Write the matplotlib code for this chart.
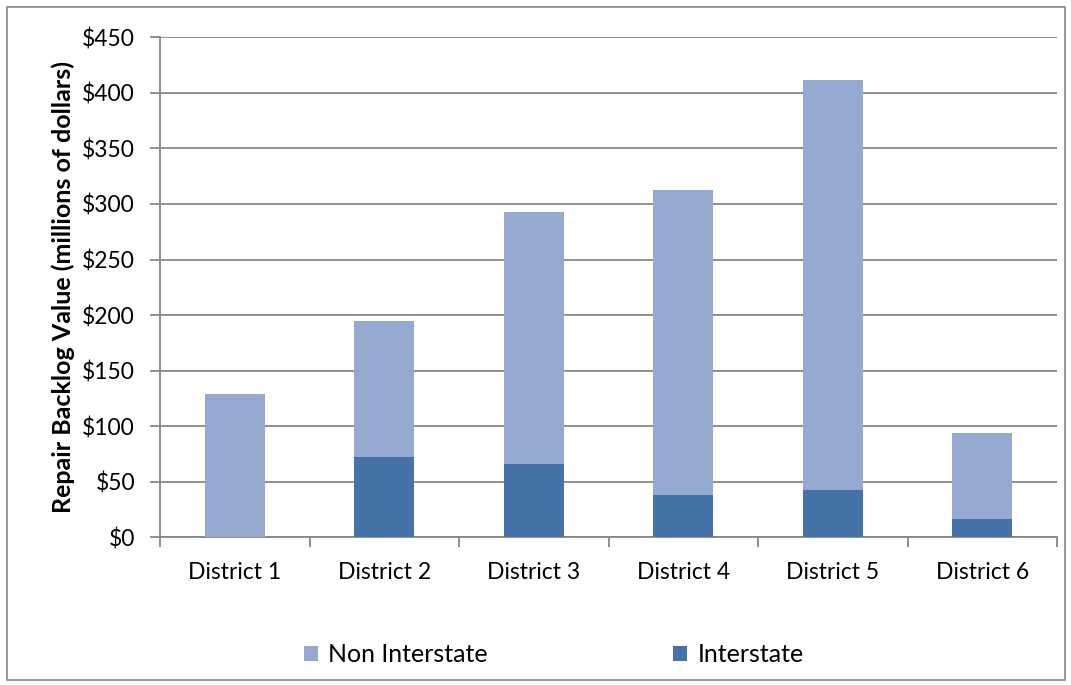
import matplotlib
matplotlib.use("Agg")
import matplotlib.pyplot as plt
from matplotlib.patches import Rectangle
from matplotlib.ticker import FuncFormatter, MultipleLocator, FixedLocator, NullFormatter

plt.rcParams['font.family'] = ['Lato', 'DejaVu Sans']

districts = ["District 1", "District 2", "District 3", "District 4", "District 5", "District 6"]
interstate = [0.0, 72.5, 65.7, 37.8, 42.5, 16.2]
non_interstate = [128.6, 122.2, 227.1, 274.8, 368.7, 77.6]

col_non = "#95A9D1"
col_int = "#4572A7"
grid_col = "#878787"

fig = plt.figure(figsize=(10.71, 6.85), dpi=100)
fig.patches.append(Rectangle((0.0065, 0.007), 0.9875, 0.983, transform=fig.transFigure,
                             fill=False, edgecolor="#868686", linewidth=1.2))

ax = fig.add_axes([160 / 1071, 1 - 537.3 / 685, (1057 - 160) / 1071, 500 / 685])

x = list(range(len(districts)))
ax.bar(x, interstate, width=0.40, color=col_int, label="Interstate", zorder=3)
ax.bar(x, non_interstate, width=0.40, bottom=interstate, color=col_non,
       label="Non Interstate", zorder=3)

ax.set_xlim(-0.5, len(districts) - 0.5)
ax.set_ylim(0, 450)
ax.yaxis.set_major_locator(MultipleLocator(50))
ax.yaxis.set_major_formatter(FuncFormatter(lambda v, p: f"${v:.0f}"))
ax.grid(axis="y", color=grid_col, linewidth=1.3, zorder=0)

for s in ["top", "right"]:
    ax.spines[s].set_visible(False)
ax.spines["left"].set_color(grid_col)
ax.spines["bottom"].set_color(grid_col)
ax.spines["left"].set_linewidth(1.3)
ax.spines["bottom"].set_linewidth(1.3)

ax.set_xticks(x)
ax.set_xticklabels(districts, fontsize=16.5)
ax.tick_params(axis="x", length=0, pad=18)
ax.xaxis.set_minor_locator(FixedLocator([i - 0.5 for i in range(len(districts) + 1)]))
ax.xaxis.set_minor_formatter(NullFormatter())
ax.tick_params(axis="x", which="minor", length=7, width=1.3, color=grid_col)
ax.tick_params(axis="y", length=7, width=1.3, color=grid_col, labelsize=16.5, pad=11)

ax.set_ylabel("Repair Backlog Value (millions of dollars)", fontsize=18,
              fontweight="bold", labelpad=5)

handles, labels = ax.get_legend_handles_labels()
leg = fig.legend(handles[::-1], labels[::-1], loc="center", bbox_to_anchor=(0.517, 1 - 655 / 685),
                 ncol=2, frameon=False, fontsize=18, handlelength=0.58, handleheight=0.58,
                 handletextpad=0.4, columnspacing=7.4)

fig.savefig("out.png", dpi=100)
